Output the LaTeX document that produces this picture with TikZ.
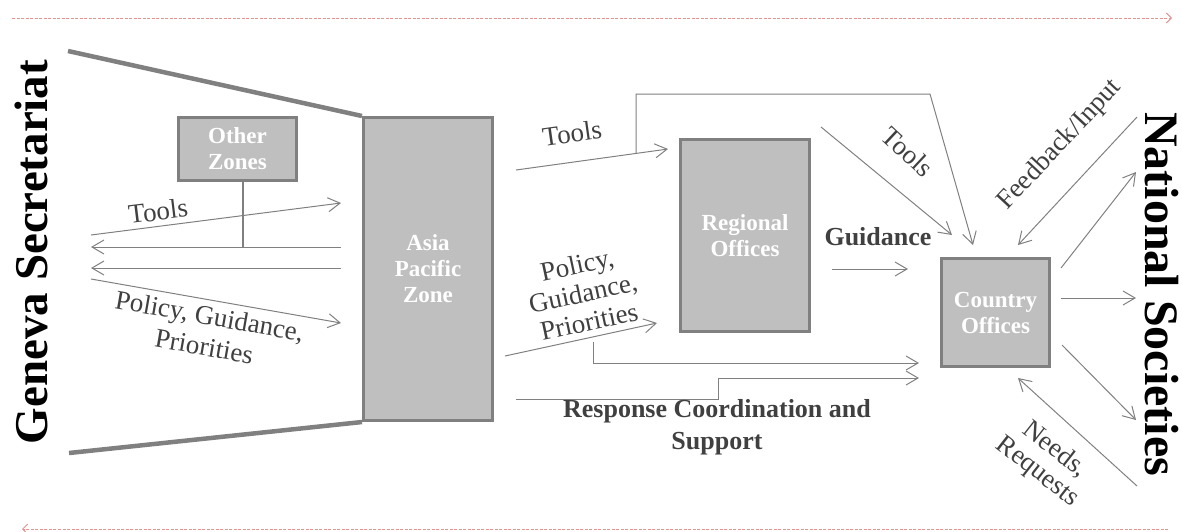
\documentclass[tikz,border=0pt]{standalone}
\usepackage{fontspec}
\setmainfont{Liberation Serif}
\usetikzlibrary{arrows.meta}
\definecolor{linegray}{HTML}{808080}
\definecolor{boxfill}{HTML}{BFBFBF}
\definecolor{labelgray}{HTML}{404040}
\definecolor{pinkline}{HTML}{E09494}
\begin{document}
\begin{tikzpicture}[x=1pt,y=-1pt,
  flow/.style={draw=linegray, line width=1pt, -{Straight Barb[length=12pt,width=14pt]}},
  zbox/.style={draw=linegray, fill=boxfill, line width=3pt, text=white, align=center, inner sep=0pt,
    font=\bfseries\fontsize{23}{26}\selectfont},
  lbl/.style={text=labelgray, align=center, inner sep=0pt, font=\fontsize{27}{30}\selectfont},
  blbl/.style={text=labelgray, align=center, inner sep=0pt, font=\bfseries\fontsize{26}{32}\selectfont},
  side/.style={text=black, inner sep=0pt, font=\bfseries\fontsize{47}{50}\selectfont},
  funnel/.style={draw=linegray, line width=4.5pt},
  timeline/.style={draw=pinkline, line width=1pt, dash pattern=on 3pt off 1.5pt, -{Straight Barb[length=5pt,width=10pt]}}
]
\useasboundingbox (0,0) rectangle (1182,531);

% timeline arrows
\coordinate (t1) at (12,18);
\coordinate (t2) at (1172,18);
\coordinate (b1) at (1168,529);
\coordinate (b2) at (22,529);
\draw[timeline] (t1) -- (t2);
\draw[timeline] (b1) -- (b2);

% side labels
\node[side, rotate=90] (gs) at (31,252) {Geneva Secretariat};
\node[side, rotate=-90, font=\bfseries\fontsize{48}{50}\selectfont] (ns) at (1162,294) {National Societies};

% boxes
\node[zbox, minimum width=129pt, minimum height=303pt] (ap) at (428,269) {Asia\\Pacific\\Zone};
\node[zbox, minimum width=118pt, minimum height=63pt] (oz) at (237.5,149) {Other\\Zones};
\node[zbox, minimum width=129pt, minimum height=192pt] (ro) at (745,235.5) {Regional\\Offices};
\node[zbox, minimum width=108pt, minimum height=108pt] (co) at (995.5,312.5) {Country\\Offices};

% funnel lines
\coordinate (f1) at (68,51);
\coordinate (f2) at (69,453);
\draw[funnel] (f1) -- (ap.north west);
\draw[funnel] (f2) -- (ap.south west);

% Geneva <-> Asia Pacific
\coordinate (g1) at (91,235);
\coordinate (g2) at (341,203);
\coordinate (g3) at (341,247);
\coordinate (g4) at (91,247);
\coordinate (g5) at (341,268);
\coordinate (g6) at (91,268);
\coordinate (g7) at (91,279);
\coordinate (g8) at (341,323);
\coordinate (ozl) at (243,247);
\draw[flow] (g1) -- (g2);
\draw[flow] (g3) -- (g4);
\draw[flow] (g5) -- (g6);
\draw[flow] (g7) -- (g8);
\draw[draw=linegray, line width=2pt] (oz.south -| ozl) -- (ozl);
\node[lbl, rotate=7] (lt1) at (158,211) {Tools};
\node[lbl, rotate=-10, font=\fontsize{27}{31}\selectfont] (lp1) at (207,331) {Policy, Guidance,\\Priorities};

% Asia Pacific -> Regional / Country
\coordinate (a1) at (516,170);
\coordinate (a2) at (668,149);
\coordinate (a3) at (636,153);
\coordinate (a4) at (636,94);
\coordinate (a5) at (930,94);
\coordinate (a6) at (973,245);
\draw[flow] (a1) -- (a2);
\draw[flow] (a3) -- (a4) -- (a5) -- (a6);
\node[lbl, rotate=8] (lt2) at (572,133) {Tools};

\coordinate (p1) at (505,356);
\coordinate (p2) at (657,323);
\coordinate (p3) at (593,342);
\coordinate (p4) at (593,363);
\coordinate (p5) at (919,363);
\draw[flow] (p1) -- (p2);
\draw[flow] (p3) -- (p4) -- (p5);
\node[lbl, rotate=12, font=\fontsize{27}{29}\selectfont] (lp2) at (583,293) {Policy,\\Guidance,\\Priorities};

\coordinate (r1) at (516,399);
\coordinate (r2) at (718,399);
\coordinate (r3) at (718,378);
\coordinate (r4) at (919,378);
\draw[flow] (r1) -- (r2) -- (r3) -- (r4);
\node[blbl] (lr) at (717,427) {Response Coordination and\\Support};

% Regional -> Country
\coordinate (c1) at (821,127);
\coordinate (c2) at (952,235);
\coordinate (c3) at (832,269);
\coordinate (c4) at (908,269);
\draw[flow] (c1) -- (c2);
\draw[flow] (c3) -- (c4);
\node[lbl, rotate=-43] (lt3) at (908,152) {Tools};
\node[blbl] (lg) at (878,237) {Guidance};

% Country <-> National Societies
\coordinate (n1) at (1137,117);
\coordinate (n2) at (1018,245);
\coordinate (n3) at (1061,268);
\coordinate (n4) at (1136,172);
\coordinate (n5) at (1061,298);
\coordinate (n6) at (1136,298);
\coordinate (n7) at (1062,345);
\coordinate (n8) at (1136,420);
\coordinate (n9) at (1137,486);
\coordinate (n10) at (1018,378);
\draw[flow] (n1) -- (n2);
\draw[flow] (n3) -- (n4);
\draw[flow] (n5) -- (n6);
\draw[flow] (n7) -- (n8);
\draw[flow] (n9) -- (n10);
\node[lbl, rotate=47] (lf) at (1060,145) {Feedback/Input};
\node[lbl, rotate=-38, font=\fontsize{27}{28}\selectfont] (lnr) at (1046,461) {Needs,\\Requests};
\end{tikzpicture}
\end{document}
